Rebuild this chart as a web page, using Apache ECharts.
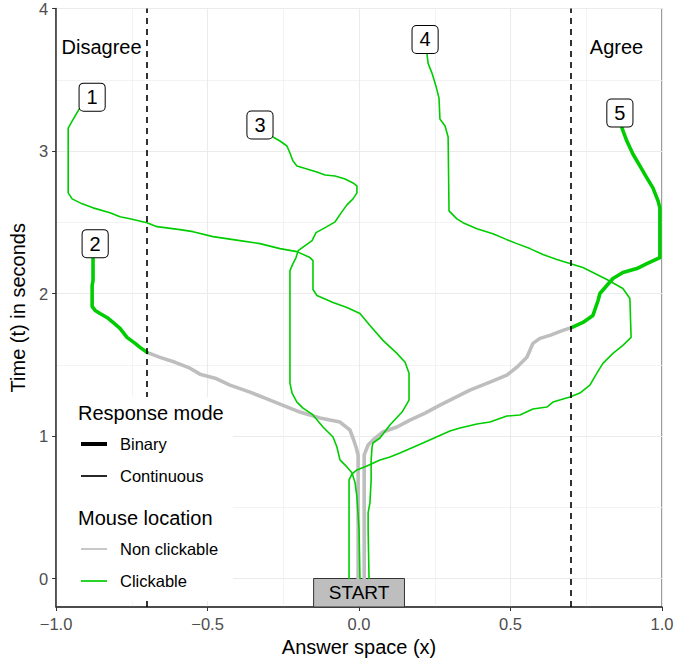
<!DOCTYPE html>
<html>
<head>
<meta charset="utf-8">
<script src="https://cdn.jsdelivr.net/npm/echarts@6/dist/echarts.min.js"></script>
<style>html,body{margin:0;padding:0;background:#fff}#c{width:697px;height:662px}</style>
</head>
<body>
<div id="c"></div>
<script>
// ---- data ----
const xTicks = [-1, -0.5, 0, 0.5, 1];
const yTicks = [0, 1, 2, 3, 4];
const thresholds = [-0.7, 0.7];
const regionLabels = ['Disagree', 'Agree'];
const regionX = [-0.85, 0.85];
const regionY = [3.73, 3.73];
const trialIds = ['1', '2', '3', '4', '5'];
const trialLabelX = [-0.881, -0.871, -0.327, 0.218, 0.861];
const trialLabelY = [3.378, 2.35, 3.182, 3.783, 3.266];
const trialModes = ['Continuous', 'Binary', 'Continuous', 'Continuous', 'Binary'];
const startBox = [[-0.15, 0], [0.15, -0.2]];

// trajectories [x, t]
const path1Clickable = [[0.033,0],[0.030,0.343],[0.030,0.462],[0.036,0.531],[0.040,0.692],[0.040,0.832],[0.043,0.923],[0.046,0.951],[0.069,0.986],[0.102,1.077],[0.142,1.168],[0.165,1.252],[0.165,1.441],[0.152,1.517],[0.125,1.580],[0.079,1.671],[0.036,1.776],[0.003,1.860],[-0.040,1.902],[-0.086,1.937],[-0.139,1.986],[-0.152,2.028],[-0.152,2.231],[-0.162,2.252],[-0.205,2.294],[-0.261,2.315],[-0.327,2.350],[-0.393,2.371],[-0.482,2.399],[-0.548,2.434],[-0.591,2.448],[-0.667,2.469],[-0.700,2.497],[-0.756,2.524],[-0.789,2.538],[-0.822,2.566],[-0.878,2.601],[-0.914,2.629],[-0.947,2.664],[-0.960,2.706],[-0.960,3.161],[-0.947,3.210],[-0.924,3.294]];
const path2NonClickable = [[-0.003,0],[-0.003,0.867],[-0.010,0.923],[-0.020,0.986],[-0.030,1.042],[-0.063,1.098],[-0.129,1.126],[-0.195,1.168],[-0.228,1.196],[-0.261,1.224],[-0.310,1.266],[-0.360,1.308],[-0.426,1.357],[-0.475,1.406],[-0.525,1.434],[-0.558,1.476],[-0.607,1.517],[-0.657,1.552],[-0.700,1.587]];
const path2Clickable = [[-0.700,1.587],[-0.723,1.622],[-0.739,1.650],[-0.766,1.692],[-0.789,1.755],[-0.812,1.797],[-0.832,1.832],[-0.855,1.860],[-0.871,1.881],[-0.881,1.909],[-0.881,2.056],[-0.878,2.091],[-0.878,2.252]];
const path3Clickable = [[0.003,0],[0.000,0.343],[-0.007,0.573],[-0.013,0.671],[-0.023,0.741],[-0.040,0.783],[-0.063,0.832],[-0.073,0.923],[-0.086,0.993],[-0.119,1.063],[-0.155,1.154],[-0.185,1.196],[-0.205,1.238],[-0.221,1.301],[-0.228,1.371],[-0.228,1.951],[-0.228,2.161],[-0.218,2.210],[-0.208,2.252],[-0.201,2.301],[-0.178,2.336],[-0.155,2.371],[-0.142,2.427],[-0.106,2.469],[-0.079,2.503],[-0.059,2.566],[-0.040,2.622],[-0.020,2.664],[-0.007,2.706],[-0.007,2.755],[-0.020,2.776],[-0.046,2.804],[-0.079,2.825],[-0.112,2.832],[-0.139,2.853],[-0.172,2.874],[-0.205,2.895],[-0.218,2.930],[-0.228,2.986],[-0.238,3.035],[-0.261,3.070],[-0.284,3.098]];
const path4Clickable = [[-0.033,0],[-0.033,0.692],[-0.023,0.734],[-0.007,0.762],[0.026,0.790],[0.069,0.832],[0.102,0.853],[0.135,0.881],[0.211,0.951],[0.300,1.035],[0.333,1.056],[0.389,1.084],[0.432,1.098],[0.488,1.140],[0.531,1.147],[0.574,1.189],[0.620,1.203],[0.640,1.238],[0.696,1.273],[0.729,1.301],[0.762,1.357],[0.785,1.441],[0.805,1.510],[0.838,1.580],[0.871,1.636],[0.898,1.692],[0.894,1.965],[0.871,2.035],[0.818,2.098],[0.772,2.147],[0.739,2.182],[0.696,2.210],[0.653,2.238],[0.607,2.273],[0.564,2.315],[0.521,2.350],[0.488,2.378],[0.442,2.420],[0.389,2.455],[0.343,2.497],[0.323,2.524],[0.297,2.580],[0.294,3.098],[0.284,3.175],[0.267,3.224],[0.264,3.371],[0.254,3.455],[0.241,3.545],[0.228,3.615],[0.224,3.685]];
const path5NonClickable = [[0.017,0],[0.017,0.867],[0.030,0.937],[0.046,0.972],[0.079,1.028],[0.125,1.063],[0.168,1.112],[0.218,1.161],[0.267,1.217],[0.300,1.252],[0.366,1.322],[0.432,1.378],[0.488,1.427],[0.521,1.483],[0.554,1.552],[0.574,1.650],[0.597,1.685],[0.630,1.706],[0.673,1.741],[0.703,1.762]];
const path5Clickable = [[0.703,1.762],[0.739,1.797],[0.772,1.846],[0.789,1.951],[0.795,2.000],[0.818,2.056],[0.838,2.105],[0.871,2.147],[0.917,2.175],[0.950,2.210],[0.993,2.252],[0.993,2.601],[0.987,2.650],[0.970,2.741],[0.950,2.811],[0.927,2.895],[0.904,2.979],[0.884,3.070],[0.868,3.161]];

const nonClickableSegs = [null, path2NonClickable, null, null, path5NonClickable];
const clickableSegs = [path1Clickable, path2Clickable, path3Clickable, path4Clickable, path5Clickable];

// ---- styles ----
const FONT = '"Liberation Sans", Arial, Helvetica, sans-serif';
const GREEN = '#00cd00';
const GRAY = '#bebebe';
const widthFor = m => (m === 'Binary' ? 3.6 : 1.6);

const series = [];
nonClickableSegs.forEach((seg, i) => {
  if (!seg) return;
  series.push({
    type: 'line', name: 'Non clickable', data: seg, showSymbol: false, symbol: 'none',
    lineStyle: { color: GRAY, width: widthFor(trialModes[i]), join: 'round', cap: 'round' },
    z: 2, silent: true
  });
});
clickableSegs.forEach((seg, i) => {
  series.push({
    type: 'line', name: 'Clickable', data: seg, showSymbol: false, symbol: 'none',
    lineStyle: { color: GREEN, width: widthFor(trialModes[i]), join: 'round', cap: 'round' },
    z: 3, silent: true
  });
});
// thresholds + start box
series.push({
  type: 'line', data: [], silent: true,
  markLine: {
    silent: true, symbol: ['none', 'none'], label: { show: false },
    lineStyle: { color: '#000', width: 1.6, type: [6, 5] },
    data: thresholds.map(v => ({ xAxis: v }))
  },
  markArea: {
    silent: true,
    itemStyle: { color: '#bebebe', borderColor: '#333', borderWidth: 1, opacity: 1 },
    label: { show: true, position: 'inside', formatter: 'START', fontSize: 19, color: '#000', fontFamily: FONT },
    data: [[{ coord: startBox[0] }, { coord: startBox[1] }]]
  }
});
// region labels
series.push({
  type: 'scatter', silent: true, symbolSize: 1, itemStyle: { color: 'rgba(0,0,0,0)', opacity: 1 },
  data: regionLabels.map((t, i) => [regionX[i], regionY[i], t]),
  label: { show: true, position: 'inside', formatter: p => p.value[2], fontSize: 20, color: '#000', fontFamily: FONT, opacity: 1 },
  z: 5
});
// trial labels
series.push({
  type: 'scatter', silent: true, symbolSize: 1, itemStyle: { color: 'rgba(0,0,0,0)', opacity: 1 },
  data: trialIds.map((t, i) => [trialLabelX[i], trialLabelY[i], t]),
  label: {
    show: true, position: 'inside', formatter: p => p.value[2], fontSize: 20, color: '#000', fontFamily: FONT, opacity: 1,
    backgroundColor: '#fff', borderColor: '#000', borderWidth: 1, borderRadius: 4, padding: [4, 7, 3, 7]
  },
  z: 6
});

// ---- legend (drawn) ----
const LX = 58, LY = 397;
const legendGraphic = [
  { type: 'rect', shape: { x: LX, y: LY, width: 175, height: 204 }, style: { fill: '#fff' }, z: 100, silent: true },
  { type: 'text', x: 78, y: 413, style: { text: 'Response mode', font: '20px ' + FONT, fill: '#000', verticalAlign: 'middle' }, z: 101, silent: true },
  { type: 'line', shape: { x1: 81, y1: 444, x2: 107, y2: 444 }, style: { stroke: '#000', lineWidth: 4 }, z: 101, silent: true },
  { type: 'text', x: 120, y: 444, style: { text: 'Binary', font: '16.5px ' + FONT, fill: '#000', verticalAlign: 'middle' }, z: 101, silent: true },
  { type: 'line', shape: { x1: 81, y1: 476, x2: 107, y2: 476 }, style: { stroke: '#000', lineWidth: 1.7 }, z: 101, silent: true },
  { type: 'text', x: 120, y: 476, style: { text: 'Continuous', font: '16.5px ' + FONT, fill: '#000', verticalAlign: 'middle' }, z: 101, silent: true },
  { type: 'text', x: 78, y: 518, style: { text: 'Mouse location', font: '20px ' + FONT, fill: '#000', verticalAlign: 'middle' }, z: 101, silent: true },
  { type: 'line', shape: { x1: 81, y1: 549, x2: 107, y2: 549 }, style: { stroke: GRAY, lineWidth: 1.7 }, z: 101, silent: true },
  { type: 'text', x: 120, y: 549, style: { text: 'Non clickable', font: '16.5px ' + FONT, fill: '#000', verticalAlign: 'middle' }, z: 101, silent: true },
  { type: 'line', shape: { x1: 81, y1: 581, x2: 107, y2: 581 }, style: { stroke: GREEN, lineWidth: 1.7 }, z: 101, silent: true },
  { type: 'text', x: 120, y: 581, style: { text: 'Clickable', font: '16.5px ' + FONT, fill: '#000', verticalAlign: 'middle' }, z: 101, silent: true }
];

const chart = echarts.init(document.getElementById('c'), null, { renderer: 'svg' });
chart.setOption({
  animation: false,
  backgroundColor: '#fff',
  textStyle: { fontFamily: FONT },
  grid: { left: 56, right: 35, top: 7, bottom: 55, show: true, borderColor: '#333', borderWidth: 1, backgroundColor: 'transparent' },
  xAxis: {
    type: 'value', min: -1, max: 1, interval: 0.5,
    name: 'Answer space (x)', nameLocation: 'middle', nameGap: 30,
    nameTextStyle: { fontSize: 20, color: '#000', fontFamily: FONT },
    axisLine: { show: true, onZero: false, lineStyle: { color: '#333', width: 1.5 } },
    axisTick: { show: true, length: 4, lineStyle: { color: '#333' } },
    axisLabel: { fontSize: 16.5, color: '#4d4d4d', margin: 8, fontFamily: FONT,
      formatter: v => (v < 0 ? '\u2212' : '') + Math.abs(v).toFixed(1) },
    splitLine: { show: true, lineStyle: { color: '#ebebeb', width: 1.1 } },
    minorTick: { show: false, splitNumber: 2 },
    minorSplitLine: { show: true, lineStyle: { color: '#f0f0f0', width: 0.8 } }
  },
  yAxis: {
    type: 'value', min: -0.2, max: 4, splitNumber: 5,
    name: 'Time (t) in seconds', nameLocation: 'middle', nameGap: 26,
    nameTextStyle: { fontSize: 20, color: '#000', fontFamily: FONT },
    axisLine: { show: true, onZero: false, lineStyle: { color: '#333', width: 1.5 } },
    axisTick: { show: true, length: 4, lineStyle: { color: '#333' }, customValues: yTicks },
    axisLabel: { fontSize: 16.5, color: '#4d4d4d', margin: 8, fontFamily: FONT, customValues: yTicks,
      formatter: v => String(v) },
    splitLine: { show: true, lineStyle: { color: '#ebebeb', width: 1.1 } },
    minorTick: { show: false, splitNumber: 2 },
    minorSplitLine: { show: true, lineStyle: { color: '#f0f0f0', width: 0.8 } }
  },
  series: series,
  graphic: legendGraphic
});
</script>
</body>
</html>
